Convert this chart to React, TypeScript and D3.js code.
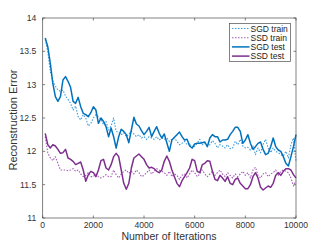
import React from "react";
import * as d3 from "d3";

const iterations: number[] = d3.range(100, 10001, 100);

const sgdTest: number[] = [
  13.70, 13.57, 13.32, 13.02, 12.82, 12.75, 12.82, 13.07, 13.12, 13.05,
  12.96, 12.75, 12.72, 12.81, 12.67, 12.57, 12.55, 12.52, 12.58, 12.67,
  12.62, 12.42, 12.50, 12.45, 12.37, 12.22, 12.35, 12.22, 12.05, 12.22,
  12.33, 12.30, 12.25, 12.13, 12.32, 12.51, 12.41, 12.38, 12.31, 12.25,
  12.30, 12.36, 12.22, 12.30, 12.37, 12.27, 12.20, 12.26, 12.13, 12.00,
  12.17, 12.21, 12.25, 12.29, 12.22, 12.17, 12.18, 12.08, 12.05, 12.11,
  12.12, 12.12, 12.13, 12.14, 12.07, 12.20, 12.25, 12.22, 12.22, 12.14,
  12.17, 12.17, 12.18, 12.25, 12.30, 12.36, 12.36, 12.30, 12.12, 12.17,
  12.25, 12.12, 12.03, 12.07, 12.12, 12.14, 12.03, 11.95, 11.97, 12.07,
  12.20, 12.07, 12.02, 12.00, 11.92, 11.82, 11.78, 11.92, 12.07, 12.25,
];

const sgdTrain: number[] = [
  13.68, 13.50, 13.20, 13.05, 12.98, 12.92, 12.90, 12.92, 12.83, 12.78,
  12.72, 12.62, 12.68, 12.52, 12.47, 12.55, 12.50, 12.38, 12.42, 12.50,
  12.55, 12.52, 12.48, 12.40, 12.45, 12.32, 12.38, 12.50, 12.30, 12.28,
  12.25, 12.28, 12.22, 12.26, 12.30, 12.26, 12.22, 12.25, 12.20, 12.22,
  12.18, 12.22, 12.20, 12.18, 12.22, 12.17, 12.20, 12.18, 12.20, 12.15,
  12.18, 12.20, 12.15, 12.10, 12.12, 12.15, 12.10, 12.12, 12.05, 12.08,
  12.12, 12.18, 12.10, 12.12, 12.08, 12.10, 12.16, 12.12, 12.05, 12.10,
  12.08, 12.05, 12.10, 12.04, 12.05, 12.15, 12.10, 12.18, 12.08, 12.05,
  12.06, 12.02, 12.08, 11.95, 12.05, 11.98, 12.10, 12.18, 12.05, 11.98,
  12.05, 12.00, 11.98, 11.95, 11.93, 12.00, 11.90, 12.10, 12.20, 11.85,
];

const ssdTest: number[] = [
  12.27, 12.10, 12.05, 12.10, 12.08, 12.03, 11.97, 11.98, 12.03, 11.90,
  11.88, 11.85, 11.80, 11.82, 11.84, 11.72, 11.55, 11.65, 11.70, 11.68,
  11.62, 11.72, 11.86, 11.88, 11.75, 11.72, 11.80, 11.92, 11.97, 11.92,
  11.72, 11.52, 11.43, 11.52, 11.75, 11.90, 11.93, 11.96, 11.92, 11.88,
  11.80, 11.75, 11.76, 11.74, 11.70, 11.68, 11.72, 11.85, 11.93, 11.85,
  11.72, 11.62, 11.52, 11.47, 11.56, 11.62, 11.68, 11.75, 11.88, 11.86,
  11.70, 11.68, 11.80, 11.82, 11.86, 11.85, 11.70, 11.58, 11.56, 11.64,
  11.60, 11.55, 11.62, 11.52, 11.50, 11.58, 11.60, 11.52, 11.48, 11.44,
  11.44, 11.50, 11.62, 11.68, 11.60, 11.46, 11.42, 11.45, 11.48, 11.46,
  11.52, 11.64, 11.68, 11.64, 11.70, 11.74, 11.74, 11.72, 11.65, 11.60,
];

const ssdTrain: number[] = [
  12.22, 11.98, 11.90, 11.86, 11.92, 11.82, 11.72, 11.72, 11.72, 11.71,
  11.72, 11.74, 11.70, 11.72, 11.66, 11.62, 11.64, 11.68, 11.62, 11.62,
  11.66, 11.62, 11.60, 11.62, 11.65, 11.62, 11.62, 11.72, 11.65, 11.60,
  11.66, 11.70, 11.72, 11.67, 11.70, 11.66, 11.72, 11.68, 11.62, 11.64,
  11.68, 11.72, 11.66, 11.70, 11.74, 11.72, 11.70, 11.68, 11.64, 11.70,
  11.62, 11.66, 11.64, 11.58, 11.64, 11.66, 11.60, 11.66, 11.72, 11.68,
  11.62, 11.66, 11.72, 11.66, 11.62, 11.66, 11.70, 11.64, 11.68, 11.72,
  11.66, 11.62, 11.68, 11.64, 11.60, 11.66, 11.62, 11.66, 11.70, 11.64,
  11.68, 11.60, 11.72, 11.76, 11.64, 11.60, 11.66, 11.68, 11.62, 11.66,
  11.68, 11.72, 11.64, 11.70, 11.72, 11.70, 11.68, 11.60, 11.48, 11.56,
];

const xTicks: number[] = [0, 2000, 4000, 6000, 8000, 10000];
const yTicks: number[] = [11, 11.5, 12, 12.5, 13, 13.5, 14];

const seriesNames: string[] = ["SGD train", "SSD train", "SGD test", "SSD test"];
const seriesData: number[][] = [sgdTrain, ssdTrain, sgdTest, ssdTest];
const seriesColors: string[] = ["#3F9BDB", "#A55CB8", "#0072BD", "#7E2F8E"];
const seriesDash: (string | null)[] = ["1.5,1.5", "1.5,1.5", null, null];
const seriesWidth: number[] = [1.1, 1.1, 1.5, 1.5];

export default function App() {
  const W = 327, H = 245;
  const left = 42.7, right = 296, top = 18, bottom = 218;
  const x = d3.scaleLinear().domain([0, 10000]).range([left, right]);
  const y = d3.scaleLinear().domain([11, 14]).range([bottom, top]);
  const line = d3
    .line<number>()
    .x((_, i) => x(iterations[i]))
    .y((d) => y(d));
  const axisColor = "#4d4d4d";
  const font = "'Liberation Sans', Arial, sans-serif";
  const tl = 2.5;

  const legX = 229.5, legY = 23.5, legW = 61, legH = 38;
  return (
    <svg
      width={W}
      height={H}
      style={{ position: "absolute", left: 0, top: 0, background: "#fff" }}
      fontFamily={font}
    >
      <rect x={0} y={0} width={W} height={H} fill="#fff" />
      {seriesData.map((s, i) => (
        <path
          key={i}
          d={line(s) || ""}
          fill="none"
          stroke={seriesColors[i]}
          strokeWidth={seriesWidth[i]}
          strokeDasharray={seriesDash[i] || undefined}
          strokeLinejoin="round"
        />
      ))}
      <rect x={left} y={top} width={right - left} height={bottom - top} fill="none" stroke={axisColor} strokeWidth={0.7} />
      {xTicks.map((t) => (
        <g key={"x" + t}>
          <line x1={x(t)} x2={x(t)} y1={bottom} y2={bottom - tl} stroke={axisColor} strokeWidth={0.7} />
          <line x1={x(t)} x2={x(t)} y1={top} y2={top + tl} stroke={axisColor} strokeWidth={0.7} />
          <text x={x(t)} y={227.8} fontSize={8.6} textAnchor="middle" fill="#333">
            {t}
          </text>
        </g>
      ))}
      {yTicks.map((t) => (
        <g key={"y" + t}>
          <line x1={left} x2={left + tl} y1={y(t)} y2={y(t)} stroke={axisColor} strokeWidth={0.7} />
          <line x1={right} x2={right - tl} y1={y(t)} y2={y(t)} stroke={axisColor} strokeWidth={0.7} />
          <text x={left - 6.5} y={y(t) + 3} fontSize={8.6} textAnchor="end" fill="#333">
            {t}
          </text>
        </g>
      ))}
      <text x={169} y={239.5} fontSize={10.5} textAnchor="middle" fill="#333">
        Number of Iterations
      </text>
      <text
        transform={`translate(16.5,${(top + bottom) / 2 + 2}) rotate(-90)`}
        fontSize={11}
        textAnchor="middle"
        fill="#333"
      >
        Reconstruction Error
      </text>
      <rect x={legX} y={legY} width={legW} height={legH} fill="#fff" stroke={axisColor} strokeWidth={0.7} />
      {seriesNames.map((n, i) => {
        const ly = legY + 5 + i * 9.2;
        return (
          <g key={n}>
            <line
              x1={legX + 2.5}
              x2={legX + 20}
              y1={ly}
              y2={ly}
              stroke={seriesColors[i]}
              strokeWidth={seriesWidth[i]}
              strokeDasharray={seriesDash[i] || undefined}
            />
            <text x={legX + 21} y={ly + 3} fontSize={8.5} fill="#222">
              {n}
            </text>
          </g>
        );
      })}
    </svg>
  );
}
